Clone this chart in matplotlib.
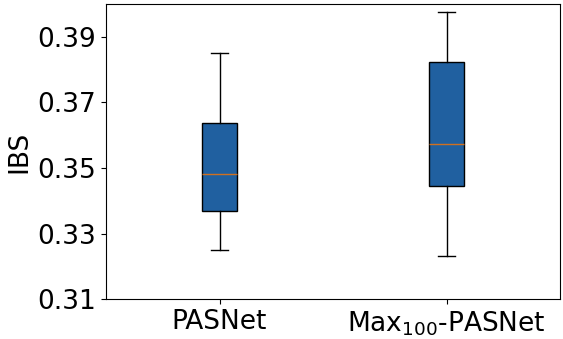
import matplotlib
matplotlib.use("Agg")
import matplotlib.pyplot as plt

labels = ["PASNet", r"Max$_{100}$-PASNet"]
whislo = [0.3249, 0.3232]
q1 = [0.3368, 0.3446]
med = [0.3482, 0.3573]
q3 = [0.3638, 0.3824]
whishi = [0.3850, 0.3977]

stats = [dict(label=l, whislo=a, q1=b, med=c, q3=d, whishi=e, fliers=[])
         for l, a, b, c, d, e in zip(labels, whislo, q1, med, q3, whishi)]

fig = plt.figure(figsize=(5.63, 3.39), dpi=100)
ax = fig.add_axes([106/563, 1-299.3/339, 454/563, 295.3/339])
bp = ax.bxp(stats, patch_artist=True, widths=0.15,
            boxprops=dict(facecolor="#2060a0", edgecolor="black"),
            medianprops=dict(color="#d07020"))
ax.set_ylim(0.31, 0.40)
ax.set_xlim(0.5, 2.5)
ax.set_yticks([0.31, 0.33, 0.35, 0.37, 0.39])
ax.set_yticklabels(["0.31", "0.33", "0.35", "0.37", "0.39"])
ax.tick_params(labelsize=19)
ax.set_ylabel("IBS", fontsize=19)
fig.savefig("out.png", dpi=100)
